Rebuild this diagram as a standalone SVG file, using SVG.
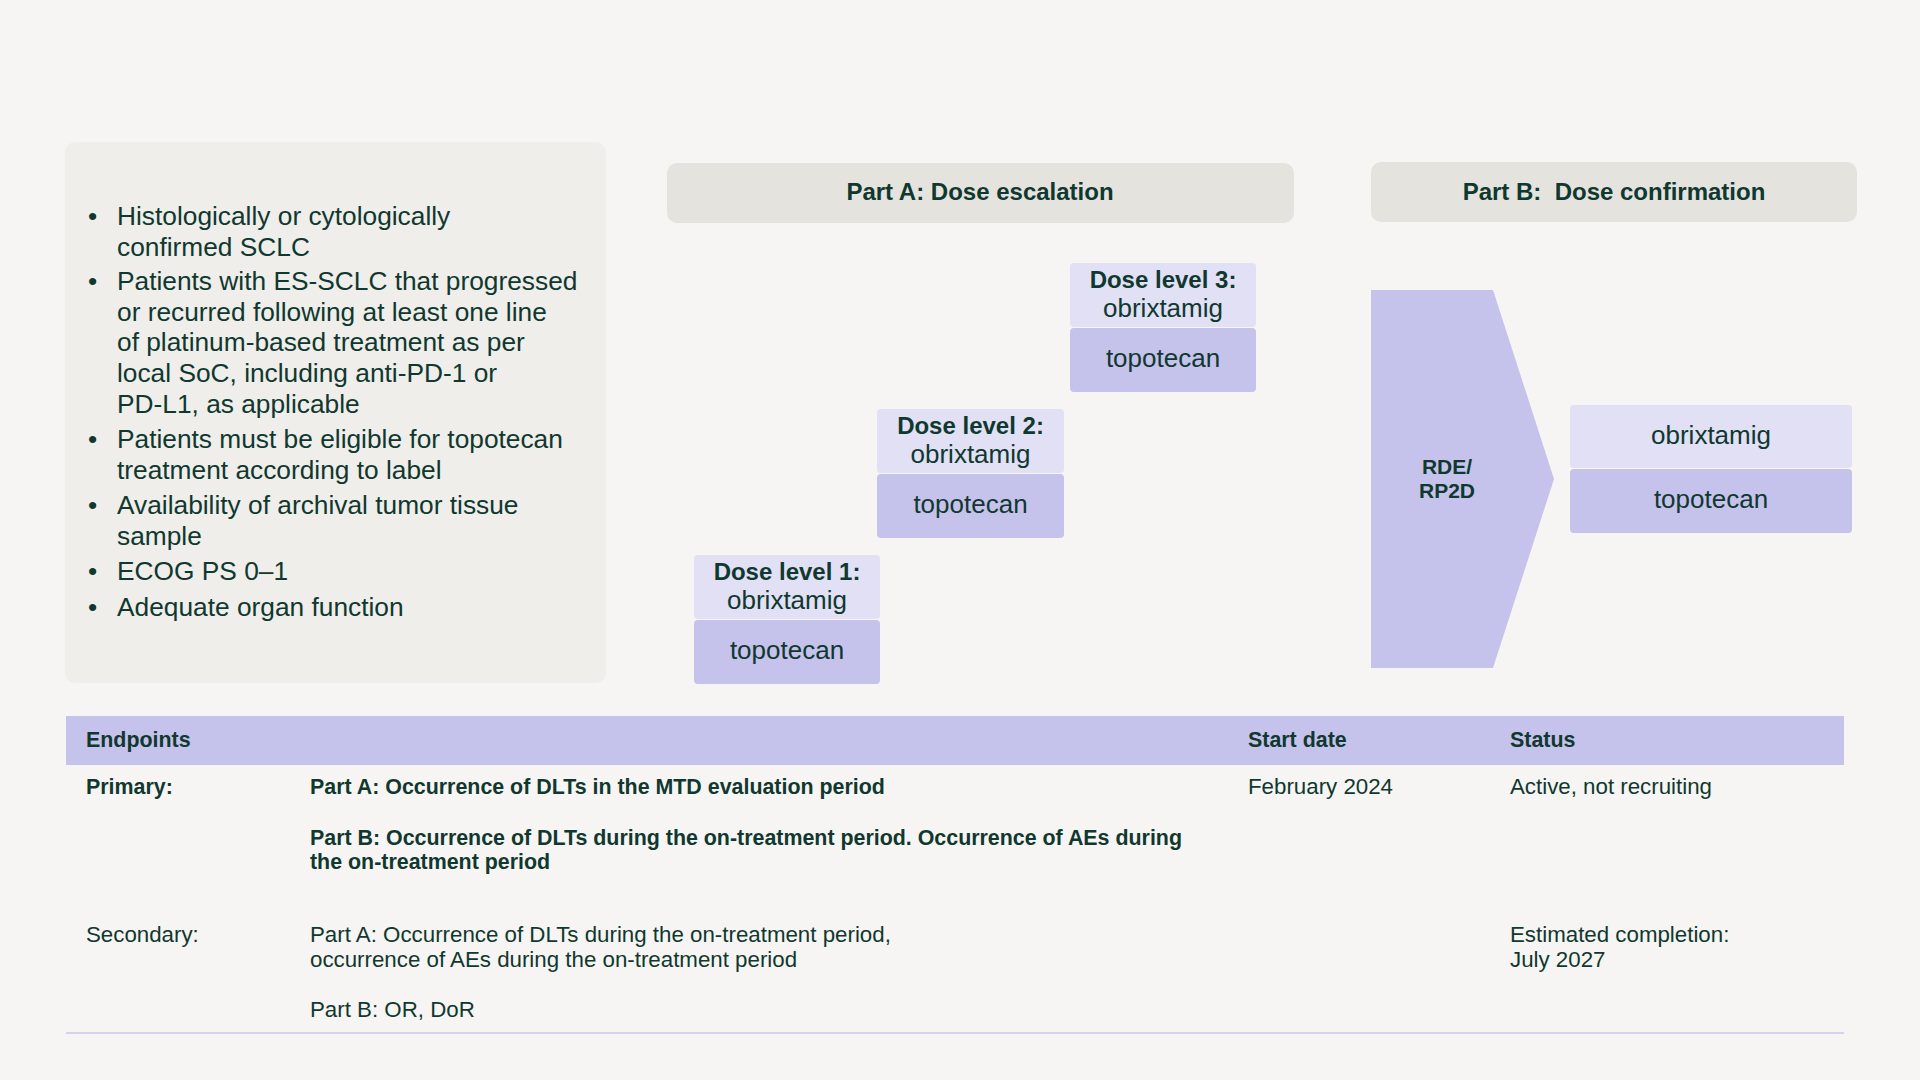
<svg xmlns="http://www.w3.org/2000/svg" width="1920" height="1080" viewBox="0 0 1920 1080">
<style>
text{font-family:"Liberation Sans",Arial,sans-serif;fill:#10382f}
.b{font-weight:bold}
.bul{font-size:26.3px}
.hdr{font-size:24px;font-weight:bold}
.dl{font-size:24px;font-weight:bold}
.drug{font-size:26px}
.tb{font-size:22.3px}
.tbb{font-size:21.4px;font-weight:bold}
.light{fill:#e1e0f5}
.dark{fill:#c5c2ec}
.grey{fill:#e4e3de}
.c{text-anchor:middle}
</style>
<rect x="0" y="0" width="1920" height="1080" fill="#f6f5f3"/>

<g id="criteria">
<rect x="65" y="142" width="541" height="541" rx="10" fill="#efeeea"/>
<g class="bul">
<text x="88" y="225">•</text>
<text x="117" y="225">Histologically or cytologically</text>
<text x="117" y="256">confirmed SCLC</text>
<text x="88" y="290">•</text>
<text x="117" y="290">Patients with ES-SCLC that progressed</text>
<text x="117" y="321">or recurred following at least one line</text>
<text x="117" y="351">of platinum-based treatment as per</text>
<text x="117" y="382">local SoC, including anti-PD-1 or</text>
<text x="117" y="413">PD-L1, as applicable</text>
<text x="88" y="448">•</text>
<text x="117" y="448">Patients must be eligible for topotecan</text>
<text x="117" y="479">treatment according to label</text>
<text x="88" y="514">•</text>
<text x="117" y="514">Availability of archival tumor tissue</text>
<text x="117" y="545">sample</text>
<text x="88" y="580">•</text>
<text x="117" y="580">ECOG PS 0–1</text>
<text x="88" y="616">•</text>
<text x="117" y="616">Adequate organ function</text>
</g>
</g>

<g id="partA-header">
<rect class="grey" x="667" y="163" width="627" height="60" rx="10"/>
<text class="hdr c" x="980" y="200">Part A: Dose escalation</text>
</g>

<g id="partB-header">
<rect class="grey" x="1371" y="162" width="486" height="60" rx="10"/>
<text class="hdr c" x="1614" y="200" xml:space="preserve">Part B:  Dose confirmation</text>
</g>

<g id="dose-level-1">
<rect class="light" x="694" y="555" width="186" height="64" rx="4"/>
<rect class="dark" x="694" y="620" width="186" height="64" rx="4"/>
<text class="dl c" x="787" y="580">Dose level 1:</text>
<text class="drug c" x="787" y="609">obrixtamig</text>
<text class="drug c" x="787" y="659">topotecan</text>
</g>

<g id="dose-level-2">
<rect class="light" x="877" y="409" width="187" height="64" rx="4"/>
<rect class="dark" x="877" y="474" width="187" height="64" rx="4"/>
<text class="dl c" x="970.5" y="434">Dose level 2:</text>
<text class="drug c" x="970.5" y="463">obrixtamig</text>
<text class="drug c" x="970.5" y="513">topotecan</text>
</g>

<g id="dose-level-3">
<rect class="light" x="1070" y="263" width="186" height="64" rx="4"/>
<rect class="dark" x="1070" y="328" width="186" height="64" rx="4"/>
<text class="dl c" x="1163" y="288">Dose level 3:</text>
<text class="drug c" x="1163" y="317">obrixtamig</text>
<text class="drug c" x="1163" y="367">topotecan</text>
</g>

<g id="rde-rp2d">
<polygon class="dark" points="1371,290 1493,290 1554,479 1493,668 1371,668"/>
<text class="b c" x="1447" y="474" font-size="21">RDE/</text>
<text class="b c" x="1447" y="498" font-size="21">RP2D</text>
</g>

<g id="partB-arm">
<rect class="light" x="1570" y="405" width="282" height="63" rx="4"/>
<rect class="dark" x="1570" y="469" width="282" height="64" rx="4"/>
<text class="drug c" x="1711" y="444">obrixtamig</text>
<text class="drug c" x="1711" y="508">topotecan</text>
</g>

<g id="connectors"></g>

<g id="endpoints-table" class="tb">
<rect class="dark" x="66" y="716" width="1778" height="49"/>
<text class="tbb" x="86" y="747">Endpoints</text>
<text class="tbb" x="1248" y="747">Start date</text>
<text class="tbb" x="1510" y="747">Status</text>
<text class="tbb" x="86" y="794">Primary:</text>
<text class="tbb" x="310" y="794">Part A: Occurrence of DLTs in the MTD evaluation period</text>
<text class="tbb" x="310" y="845">Part B: Occurrence of DLTs during the on-treatment period. Occurrence of AEs during</text>
<text class="tbb" x="310" y="869">the on-treatment period</text>
<text x="1248" y="794">February 2024</text>
<text x="1510" y="794">Active, not recruiting</text>
<text x="86" y="942">Secondary:</text>
<text x="310" y="942">Part A: Occurrence of DLTs during the on-treatment period,</text>
<text x="310" y="967">occurrence of AEs during the on-treatment period</text>
<text x="310" y="1017">Part B: OR, DoR</text>
<text x="1510" y="942">Estimated completion:</text>
<text x="1510" y="967">July 2027</text>
<line x1="66" y1="1033" x2="1844" y2="1033" stroke="#d4d2f0" stroke-width="2"/>
</g>
</svg>
